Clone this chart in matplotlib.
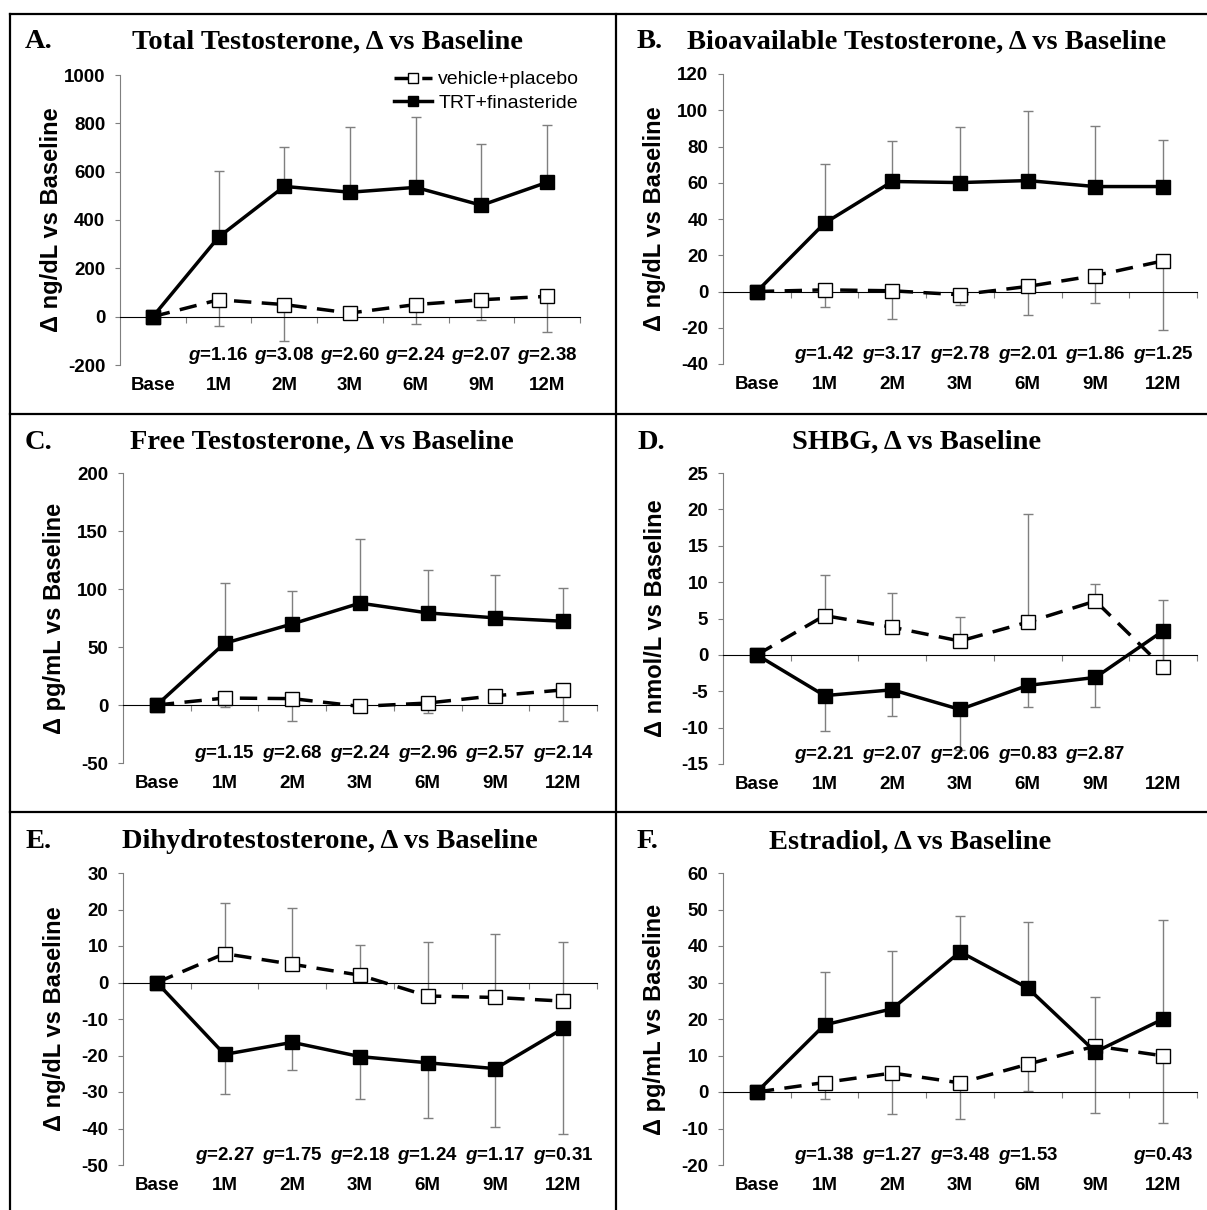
import matplotlib
matplotlib.use("Agg")
import matplotlib.pyplot as plt
import matplotlib.transforms as mtransforms
from matplotlib.lines import Line2D
import numpy as np

plt.rcParams['font.family'] = 'Liberation Sans'
plt.rcParams['axes.unicode_minus'] = False
plt.rcParams['mathtext.fontset'] = 'custom'
plt.rcParams['mathtext.it'] = 'Liberation Sans:italic:bold'
plt.rcParams['mathtext.rm'] = 'Liberation Sans:bold'

visits = ['Base', '1M', '2M', '3M', '6M', '9M', '12M']

# A. total testosterone (ng/dL); *_bar = end of the error bar, 1M..12M
tt_trt = [0, 329, 539, 515, 535, 461, 556]
tt_trt_bar = [604, 700, 786, 828, 715, 794]
tt_pbo = [0, 70, 50, 15, 50, 70, 84]
tt_pbo_bar = [-37, -102, -8, -30, -12, -62]
tt_g = ['1.16', '3.08', '2.60', '2.24', '2.07', '2.38']

# B. bioavailable testosterone (ng/dL)
bt_trt = [0, 37.7, 60.7, 60.1, 61.2, 57.9, 57.9]
bt_trt_bar = [70.4, 83.3, 91.0, 99.6, 91.5, 83.5]
bt_pbo = [0, 0.9, 0.4, -1.8, 2.8, 8.8, 16.9]
bt_pbo_bar = [-8.3, -15.0, -7.4, -12.9, -6.4, -21.1]
bt_g = ['1.42', '3.17', '2.78', '2.01', '1.86', '1.25']

# C. free testosterone (pg/mL)
ft_trt = [0, 53.2, 69.9, 87.8, 79.4, 75.1, 72.2]
ft_trt_bar = [105.0, 98.7, 142.7, 116.0, 111.7, 100.7]
ft_pbo = [0, 6.0, 5.5, -1.2, 1.7, 8.0, 13.0]
ft_pbo_bar = [-1.4, -13.5, -3.5, -7.2, 3.0, -13.5]
ft_g = ['1.15', '2.68', '2.24', '2.96', '2.57', '2.14']

# D. SHBG (nmol/L)
sh_trt = [0, -5.6, -4.8, -7.5, -4.2, -3.1, 3.3]
sh_trt_bar = [-10.4, -8.4, -13.1, -7.2, -7.2, -1.5]
sh_pbo = [0, 5.4, 3.8, 1.9, 4.5, 7.4, -1.7]
sh_pbo_bar = [11.0, 8.5, 5.2, 19.3, 9.8, 7.6]
sh_g = ['2.21', '2.07', '2.06', '0.83', '2.87', None]

# E. dihydrotestosterone (ng/dL)
dh_trt = [0, -19.7, -16.4, -20.3, -22.0, -23.6, -12.6]
dh_trt_bar = [-30.6, -24.0, -31.8, -37.0, -39.6, -41.6]
dh_pbo = [0, 7.9, 5.0, 2.0, -3.7, -4.1, -5.1]
dh_pbo_bar = [21.8, 20.5, 10.3, 11.0, 13.3, 11.0]
dh_g = ['2.27', '1.75', '2.18', '1.24', '1.17', '0.31']

# F. estradiol (pg/mL)
es_trt = [0, 18.4, 22.8, 38.4, 28.5, 11.0, 20.0]
es_trt_bar = [32.8, 38.5, 48.3, 46.5, 25.9, 47.0]
es_pbo = [0, 2.6, 5.2, 2.5, 7.6, 12.6, 9.9]
es_pbo_bar = [-2.0, -6.1, -7.5, 0.4, -5.7, -8.5]
es_g = ['1.38', '1.27', '3.48', '1.53', None, '0.43']

W, H = 1207, 1210
fig = plt.figure(figsize=(W / 100, H / 100), dpi=100)


def px(x0, x1, ytop, ybot):
    return [x0 / W, 1 - ybot / H, (x1 - x0) / W, (ybot - ytop) / H]


def panel(rect, letter, letter_x, title, title_x, title_y, ylabel, ylab_x,
          ylim, step, trt, trt_bar, pbo, pbo_bar, g, legend=False):
    ax = fig.add_axes(px(*rect))
    ax.patch.set_alpha(0)
    x = np.arange(len(visits))
    for mean, ends in ((trt, trt_bar), (pbo, pbo_bar)):
        m = np.array(mean[1:], float)
        e = np.array(ends, float)
        lo = np.clip(m - e, 0, None)
        hi = np.clip(e - m, 0, None)
        ax.errorbar(x[1:], m, yerr=[lo, hi], fmt='none', ecolor='#7f7f7f',
                    elinewidth=1, capsize=3.5, capthick=1, zorder=2)
    ax.plot(x, pbo, ls=(0, (5, 3)), lw=2.5, color='black', marker='s', ms=10.5,
            mfc='white', mec='black', mew=1, zorder=3, label='vehicle+placebo')
    ax.plot(x, trt, ls='-', lw=2.5, color='black', marker='s', ms=10.5,
            mfc='black', mec='black', zorder=4, label='TRT+finasteride')

    ax.set_xlim(-0.5, 6.5)
    ax.set_ylim(*ylim)
    ax.set_yticks(np.arange(ylim[0], ylim[1] + step / 2, step))
    ax.spines['top'].set_visible(False)
    ax.spines['right'].set_visible(False)
    ax.spines['left'].set_color('#7f7f7f')
    ax.spines['bottom'].set_position(('data', 0))
    ax.spines['bottom'].set_color('black')
    ax.set_xticks(np.arange(0.5, 6.6, 1))
    ax.set_xticklabels([])
    ax.tick_params(axis='x', direction='out', length=4.5, color='#7f7f7f')
    ax.tick_params(axis='y', direction='out', length=3.6, pad=7,
                   color='#7f7f7f', labelsize=13.5)
    for lab in ax.get_yticklabels():
        lab.set_fontweight('bold')

    trans = mtransforms.blended_transform_factory(ax.transData, ax.transAxes)
    for i, v in enumerate(visits):
        ax.annotate(v, (i, 0), xycoords=trans, xytext=(0, -15),
                    textcoords='offset points', ha='center', va='center',
                    fontsize=13.5, fontweight='bold')
    for i, gv in enumerate(g):
        if gv is None:
            continue
        ax.annotate('$g$=' + gv, (i + 1, 0), xycoords=trans, xytext=(0, 6.5),
                    textcoords='offset points', ha='center', va='center',
                    fontsize=13.5, fontweight='bold')

    yc = (rect[2] + rect[3]) / 2
    fig.text(ylab_x / W, 1 - yc / H, ylabel, rotation=90, ha='center',
             va='center', fontsize=17, fontweight='bold')
    fig.text(letter_x / W, 1 - title_y / H, letter, ha='left', va='center',
             family='Liberation Serif', fontweight='bold', fontsize=20.5)
    fig.text(title_x / W, 1 - title_y / H, title, ha='center', va='center',
             family='Liberation Serif', fontweight='bold', fontsize=20.5)

    if legend:
        ax.legend(loc='upper right', bbox_to_anchor=(589 / W, 1 - 61 / H),
                  bbox_transform=fig.transFigure, frameon=False, fontsize=14,
                  handlelength=2.0, markerscale=0.75, borderpad=0,
                  labelspacing=0.3, handletextpad=0.3)
    return ax


panel((120, 580, 75, 365), 'A.', 25, 'Total Testosterone, Δ vs Baseline', 327, 42,
      'Δ ng/dL vs Baseline', 52, (-200, 1000), 200,
      tt_trt, tt_trt_bar, tt_pbo, tt_pbo_bar, tt_g, legend=True)
panel((723, 1197, 74, 364), 'B.', 637, 'Bioavailable Testosterone, Δ vs Baseline', 927, 42,
      'Δ ng/dL vs Baseline', 655, (-40, 120), 20,
      bt_trt, bt_trt_bar, bt_pbo, bt_pbo_bar, bt_g)
panel((123, 597, 473, 763), 'C.', 25, 'Free Testosterone, Δ vs Baseline', 322, 442,
      'Δ pg/mL vs Baseline', 55, (-50, 200), 50,
      ft_trt, ft_trt_bar, ft_pbo, ft_pbo_bar, ft_g)
panel((723, 1197, 473, 764), 'D.', 637, 'SHBG, Δ vs Baseline', 917, 442,
      'Δ nmol/L vs Baseline', 655, (-15, 25), 5,
      sh_trt, sh_trt_bar, sh_pbo, sh_pbo_bar, sh_g)
panel((123, 597, 873, 1165), 'E.', 25, 'Dihydrotestosterone, Δ vs Baseline', 330, 842,
      'Δ ng/dL vs Baseline', 55, (-50, 30), 10,
      dh_trt, dh_trt_bar, dh_pbo, dh_pbo_bar, dh_g)
panel((723, 1197, 873, 1165), 'F.', 637, 'Estradiol, Δ vs Baseline', 910, 842,
      'Δ pg/mL vs Baseline', 655, (-20, 60), 10,
      es_trt, es_trt_bar, es_pbo, es_pbo_bar, es_g)

# panel frame lines
for (x0, y0, x1, y1) in [(10, 14, W, 14), (10, 14, 10, H), (616, 14, 616, H),
                         (10, 414, W, 414), (10, 812, W, 812)]:
    fig.add_artist(Line2D([x0 / W, x1 / W], [1 - y0 / H, 1 - y1 / H],
                          transform=fig.transFigure, color='black', lw=1.6))

fig.savefig('out.png', dpi=100)
